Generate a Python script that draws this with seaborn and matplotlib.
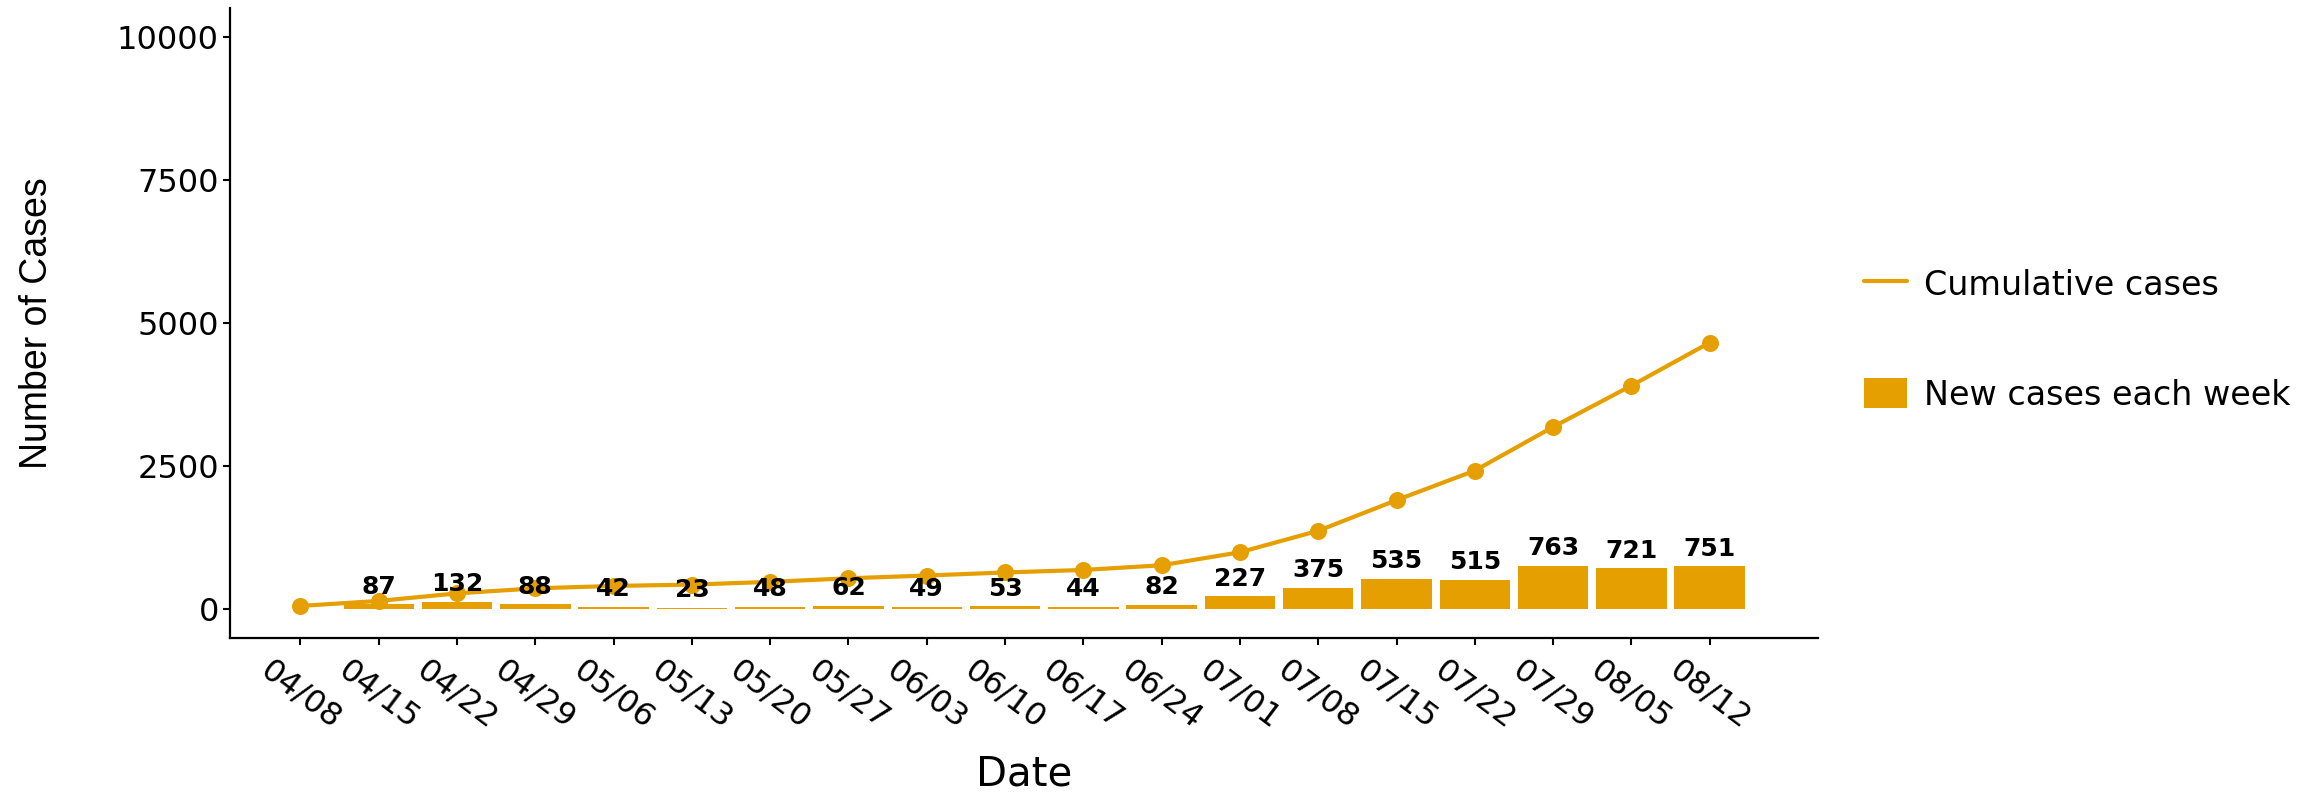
import matplotlib
matplotlib.use('Agg')
import matplotlib.pyplot as plt
from matplotlib.lines import Line2D
from matplotlib.patches import Patch
import pandas as pd
import seaborn as sns

sns.set_style('white')
plt.rcParams['font.family'] = ['DejaVu Sans']
plt.rcParams['text.color'] = 'black'
plt.rcParams['axes.labelcolor'] = 'black'
plt.rcParams['xtick.color'] = 'black'
plt.rcParams['ytick.color'] = 'black'

# weekly report dates
dates = ['04/08', '04/15', '04/22', '04/29', '05/06', '05/13', '05/20',
         '05/27', '06/03', '06/10', '06/17', '06/24', '07/01', '07/08',
         '07/15', '07/22', '07/29', '08/05', '08/12']
# new cases start from the second week
new_dates = ['04/15', '04/22', '04/29', '05/06', '05/13', '05/20', '05/27',
             '06/03', '06/10', '06/17', '06/24', '07/01', '07/08', '07/15',
             '07/22', '07/29', '08/05', '08/12']
new_cases = [87, 132, 88, 42, 23, 48, 62, 49, 53, 44, 82, 227, 375, 535,
             515, 763, 721, 751]
cumulative = [60, 147, 279, 367, 409, 432, 480, 542, 591, 644, 688, 770,
              997, 1372, 1907, 2422, 3185, 3906, 4657]

orange = '#E69F00'

weekly = pd.DataFrame({'Date': new_dates, 'New': new_cases})
cum = pd.DataFrame({'Date': dates, 'Cumulative': cumulative})

fig, ax = plt.subplots(figsize=(23.23, 7.96), dpi=100)
fig.subplots_adjust(left=0.099, right=0.7825, bottom=0.1985, top=0.99)

sns.barplot(data=weekly, x='Date', y='New', order=dates, color=orange,
            width=0.9, saturation=1, linewidth=0, edgecolor='none', ax=ax)
ax.bar_label(ax.containers[0], fmt='%d', fontsize=18, fontweight='bold',
             padding=4, color='black')

sns.pointplot(data=cum, x='Date', y='Cumulative', order=dates, color=orange,
              errorbar=None, markersize=10, linewidth=3, ax=ax)

ax.set_xlim(-0.9, 19.38)
ax.set_ylim(-500, 10500)
ax.set_yticks([0, 2500, 5000, 7500, 10000])

sns.despine(ax=ax)
for side in ['left', 'bottom']:
    ax.spines[side].set_linewidth(1.6)
    ax.spines[side].set_color('black')

ax.tick_params(axis='both', direction='out', length=5, width=1.5,
               color='black', left=True, bottom=True, labelsize=23)
ax.tick_params(axis='x', pad=7)
ax.tick_params(axis='y', pad=3)
plt.setp(ax.get_xticklabels(), rotation=-37, ha='center', va='top')

ax.set_xlabel('Date', fontsize=29)
ax.xaxis.set_label_coords(0.5, -0.216)
ax.xaxis.label.set_verticalalignment('center')

ax.set_ylabel('Number of Cases', fontsize=27, family=['Liberation Sans'])
ax.yaxis.set_label_coords(-0.11, 0.5)

handles = [Line2D([0], [0], color=orange, lw=3),
           Patch(facecolor=orange, edgecolor='none')]
ax.legend(handles=handles, labels=['Cumulative cases', 'New cases each week'],
          loc='center left', bbox_to_anchor=(1864 / 2323, 0.573),
          bbox_transform=fig.transFigure, frameon=False, fontsize=24,
          handlelength=1.3, handleheight=1.0, handletextpad=0.5,
          labelspacing=2.3, borderpad=0, borderaxespad=0)

fig.savefig('out.png', dpi=100)
plt.close()
